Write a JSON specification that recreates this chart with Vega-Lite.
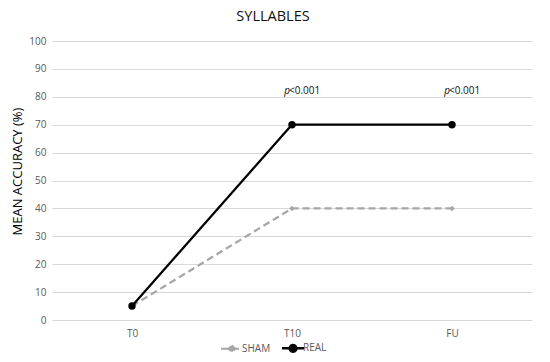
{
  "$schema": "https://vega.github.io/schema/vega-lite/v6.json",
  "width": 480,
  "height": 279,
  "autosize": {"type": "none"},
  "padding": {"left": 52, "top": 41, "right": 18, "bottom": 42},
  "background": "white",
  "config": {
    "view": {"stroke": null},
    "font": "Open Sans",
    "axis": {"labelFont": "Open Sans", "titleFont": "Open Sans"}
  },
  "title": {
    "text": "SYLLABLES",
    "fontSize": 14.5,
    "fontWeight": "normal",
    "color": "#111111",
    "anchor": "middle",
    "dx": -19,
    "offset": 12
  },
  "datasets": {
    "series": [
      {"time": "T0", "group": "SHAM", "value": 5},
      {"time": "T10", "group": "SHAM", "value": 40},
      {"time": "FU", "group": "SHAM", "value": 40},
      {"time": "T0", "group": "REAL", "value": 5},
      {"time": "T10", "group": "REAL", "value": 70},
      {"time": "FU", "group": "REAL", "value": 70}
    ],
    "notes": [
      {"time": "T10", "value": 82, "p": "p", "rest": "<0.001"},
      {"time": "FU", "value": 82, "p": "p", "rest": "<0.001"}
    ]
  },
  "encoding": {
    "x": {
      "field": "time", "type": "ordinal", "sort": ["T0", "T10", "FU"],
      "scale": {"paddingInner": 0, "paddingOuter": 0},
      "axis": {"title": null, "labelAngle": 0, "ticks": false, "domain": false, "labelColor": "#595959", "labelFontSize": 10, "labelPadding": 8}
    },
    "y": {
      "field": "value", "type": "quantitative",
      "scale": {"domain": [0, 100]},
      "axis": {
        "title": "MEAN ACCURACY (%)", "titleFontSize": 13, "titleFontWeight": "normal", "titleColor": "#000000",
        "titleX": -35, "titleY": 130, "titleAngle": -90, "titleAlign": "center", "titleBaseline": "middle",
        "values": [0, 10, 20, 30, 40, 50, 60, 70, 80, 90, 100], "labelOverlap": false,
        "ticks": false, "domain": false, "labelColor": "#595959", "labelFontSize": 10, "labelPadding": 6,
        "gridColor": "#d9d9d9", "gridWidth": 1
      }
    }
  },
  "layer": [
    {
      "data": {"name": "series"},
      "mark": {"type": "line", "strokeWidth": 2.25},
      "encoding": {
        "color": {
          "field": "group", "type": "nominal",
          "scale": {"domain": ["SHAM", "REAL"], "range": ["#a6a6a6", "#000000"]},
          "legend": {
            "title": null, "orient": "none", "direction": "horizontal",
            "legendX": 175, "legendY": 302,
            "labelColor": "#595959", "labelFontSize": 10, "columnPadding": 6, "labelOffset": 5,
            "symbolSize": 484,
            "encode": {
              "symbols": {
                "update": {
                  "shape": {"signal": "datum.value === 'SHAM' ? 'M-1,0L1,0M0,-0.3L0.3,0L0,0.3L-0.3,0Z' : 'M-1,0L1,0M-0.3,0A0.3,0.3 0 1,1 0.3,0A0.3,0.3 0 1,1 -0.3,0Z'"},
                  "fill": {"signal": "datum.value === 'SHAM' ? '#a6a6a6' : '#000000'"},
                  "stroke": {"signal": "datum.value === 'SHAM' ? '#a6a6a6' : '#000000'"},
                  "strokeWidth": {"signal": "datum.value === 'SHAM' ? 2 : 2.5"},
                  "strokeDash": {"value": []},
                  "opacity": {"value": 1}
                }
              }
            }
          }
        },
        "strokeDash": {
          "field": "group", "type": "nominal",
          "scale": {"domain": ["SHAM", "REAL"], "range": [[7, 4], [1, 0]]},
          "legend": null
        }
      }
    },
    {
      "data": {"name": "series"},
      "transform": [{"filter": "datum.group === 'SHAM'"}],
      "mark": {"type": "point", "filled": true, "opacity": 1, "shape": "diamond", "size": 30, "color": "#a6a6a6"}
    },
    {
      "data": {"name": "series"},
      "transform": [{"filter": "datum.group === 'REAL'"}],
      "mark": {"type": "point", "filled": true, "opacity": 1, "shape": "circle", "size": 55, "color": "#000000"}
    },
    {
      "data": {"name": "notes"},
      "mark": {"type": "text", "fontStyle": "italic", "align": "right", "dx": -2, "fontSize": 10, "color": "#111111"},
      "encoding": {
        "text": {"field": "p"}
      }
    },
    {
      "data": {"name": "notes"},
      "mark": {"type": "text", "align": "left", "dx": -3, "fontSize": 10, "color": "#111111"},
      "encoding": {
        "text": {"field": "rest"}
      }
    }
  ]
}
